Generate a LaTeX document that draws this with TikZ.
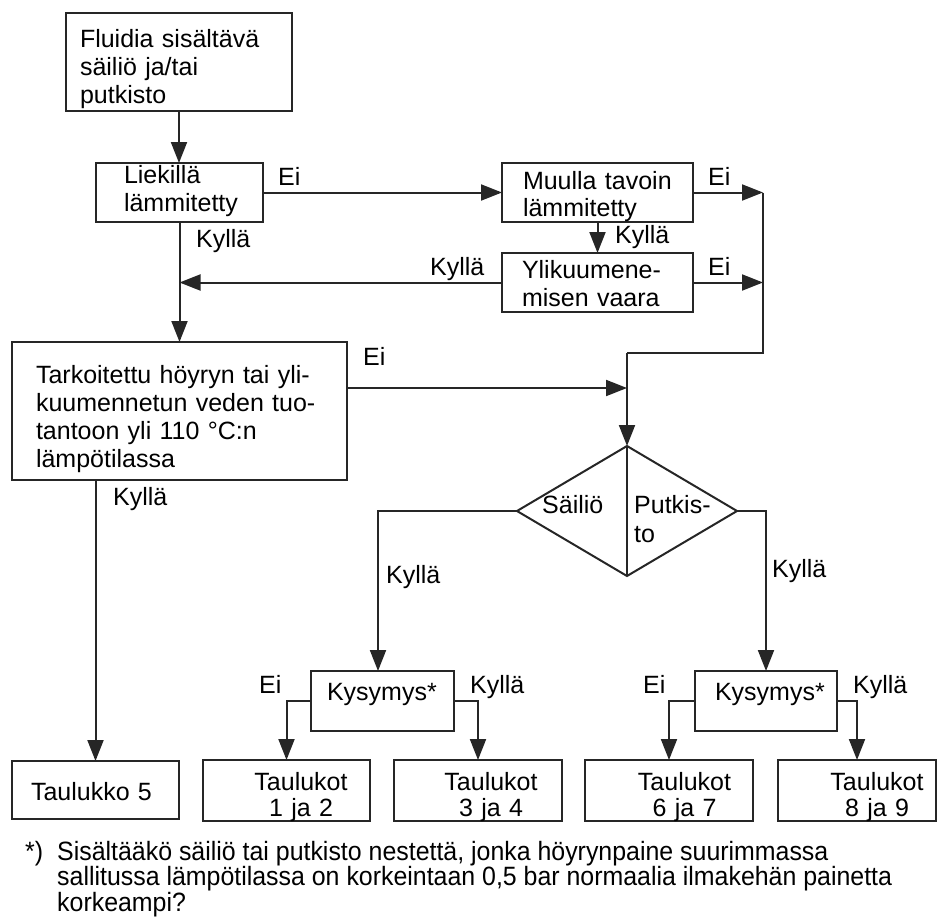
\documentclass[tikz,border=0pt]{standalone}
\usepackage{fontspec}
\setmainfont{Liberation Sans}
\newfontfamily\fnfont[FakeStretch=0.94]{Liberation Sans}
\usetikzlibrary{arrows.meta,shapes.geometric}
\newcommand\topst[1]{\rule{0pt}{#1pt}}
\newcommand\botst[1]{\rule[-#1pt]{0pt}{#1pt}}
\begin{document}
\begin{tikzpicture}[x=1pt,y=-1pt,
  every node/.style={font=\fontsize{25}{28}\selectfont, text=black},
  box/.style={draw=black!85, line width=2pt, rectangle, anchor=north west,
    inner sep=0pt, outer sep=0pt, align=left},
  tbox/.style={box, align=center, text width=140pt},
  lbl/.style={anchor=base west, inner sep=0pt},
  fn/.style={anchor=base west, inner sep=0pt, font=\fnfont\fontsize{26.5}{25}\selectfont},
  conn/.style={draw=black!85, line width=2pt},
  arr/.style={conn, -{Triangle[length=21pt,width=16pt]}}
]
\useasboundingbox (0,0) rectangle (937,918);

% boxes
\node[box, minimum width=226pt, minimum height=98pt, text width=198pt] (b1) at (66,13)
  {\topst{32}\mbox{Fluidia sisältävä}\\\mbox{säiliö ja/tai}\\\mbox{putkisto}\botst{6}};
\node[box, minimum width=167pt, minimum height=59pt, text width=111pt] (b2) at (96,163)
  {\topst{20}\mbox{Liekillä}\\\mbox{lämmitetty}\botst{11}};
\node[box, minimum width=191pt, minimum height=59pt, text width=149pt] (m) at (502,163)
  {\topst{26}\mbox{Muulla tavoin}\\[-1pt]\mbox{lämmitetty}\botst{6}};
\node[box, minimum width=191pt, minimum height=59pt, text width=151pt] (y) at (502,253)
  {\topst{25}\mbox{Ylikuumene-}\\\mbox{misen vaara}\botst{6}};
\node[box, minimum width=335pt, minimum height=138pt, text width=287pt] (b3) at (12,342)
  {\topst{34}\mbox{Tarkoitettu höyryn tai yli-}\\\mbox{kuumennetun veden tuo-}\\\mbox{tantoon yli 110~°C:n}\\\mbox{lämpötilassa}\botst{6}};
\node[box, minimum width=143pt, minimum height=60pt, text width=111pt] (q1) at (311,671)
  {\topst{20}\mbox{Kysymys*}\botst{22}};
\node[box, minimum width=142pt, minimum height=60pt, text width=102pt] (q2) at (695,671)
  {\topst{20}\mbox{Kysymys*}\botst{22}};
\node[box, minimum width=167pt, minimum height=58pt, text width=129pt] (t5) at (12,761)
  {\topst{26}\mbox{Taulukko 5}\botst{6}};
\node[tbox, minimum width=167pt, minimum height=60pt] (t12) at (203,760)
  {\topst{30}\hspace*{29pt}Taulukot\\[-2pt]\hspace*{29pt}1 ja 2\botst{5}};
\node[tbox, minimum width=168pt, minimum height=60pt] (t34) at (394,760)
  {\topst{30}\hspace*{26pt}Taulukot\\[-2pt]\hspace*{26pt}3 ja 4\botst{5}};
\node[tbox, minimum width=168pt, minimum height=60pt] (t67) at (585,760)
  {\topst{30}\hspace*{31pt}Taulukot\\[-2pt]\hspace*{31pt}6 ja 7\botst{5}};
\node[tbox, minimum width=158pt, minimum height=60pt] (t89) at (778,760)
  {\topst{30}\hspace*{40pt}Taulukot\\[-2pt]\hspace*{40pt}8 ja 9\botst{5}};

% diamond
\node[diamond, draw=black!85, line width=2pt, minimum width=220pt, minimum height=130pt,
  aspect=1.69, inner sep=0pt, outer sep=0pt] (d) at (627,511) {};
\node[lbl] (sai) at (542,513) {Säiliö};
\node[lbl] (put1) at (634,513) {Putkis-};
\node[lbl] (put2) at (634,542) {to};

% helper coordinates
\coordinate (r1) at (763,192.5);
\coordinate (r2) at (763,282.5);
\coordinate (r3) at (763,353);
\coordinate (r4) at (627,353);
\coordinate (r5) at (627,388);
\coordinate (k1) at (179.5,282.5);
\coordinate (sL) at (378,511);
\coordinate (sR) at (766,511);

% connectors
\draw[arr] (b1.south) -- (b1.south |- b2.north);
\draw[arr] (b2.east) -- (m.west);
\draw[arr] (m.south) -- (y.north);
\draw[arr] (m.east) -- (r1);
\draw[arr] (y.east) -- (r2);
\draw[conn] (r1) -- (r3) -- (r4);
\draw[arr] (r4) -- (d.north);
\draw[arr] (y.west) -- (k1);
\draw[arr] (b2.south) -- (b2.south |- b3.north);
\draw[arr] (b3.east |- r5) -- (r5);
\draw[arr] (t5.north |- b3.south) -- (t5.north);
\draw[conn] (d.north) -- (d.south);
\draw[arr] (d.west) -- (sL) -- (sL |- q1.north);
\draw[arr] (d.east) -- (sR) -- (sR |- q2.north);
\draw[arr] (q1.west) -| (t12.north);
\draw[arr] (q1.east) -| (t34.north);
\draw[arr] (q2.west) -| (t67.north);
\draw[arr] (q2.east) -| (t89.north);

% connector labels
\node[lbl] (l1) at (278,185) {Ei};
\node[lbl] (l2) at (196,247) {Kyllä};
\node[lbl] (l3) at (708,185) {Ei};
\node[lbl] (l4) at (615,243) {Kyllä};
\node[lbl] (l5) at (430,275) {Kyllä};
\node[lbl] (l6) at (708,275) {Ei};
\node[lbl] (l7) at (363,365) {Ei};
\node[lbl] (l8) at (113,505) {Kyllä};
\node[lbl] (l9) at (386,583) {Kyllä};
\node[lbl] (l10) at (772,577) {Kyllä};
\node[lbl] (l11) at (259,693) {Ei};
\node[lbl] (l12) at (470,693) {Kyllä};
\node[lbl] (l13) at (643,693) {Ei};
\node[lbl] (l14) at (853,693) {Kyllä};

% footnote
\node[fn] (fa) at (25,860) {*)};
\node[fn] (f1) at (57,860) {Sisältääkö säiliö tai putkisto nestettä, jonka höyrynpaine suurimmassa};
\node[fn] (f2) at (57,885.5) {sallitussa lämpötilassa on korkeintaan 0,5 bar normaalia ilmakehän painetta};
\node[fn] (f3) at (57,911) {korkeampi?};
\end{tikzpicture}
\end{document}
